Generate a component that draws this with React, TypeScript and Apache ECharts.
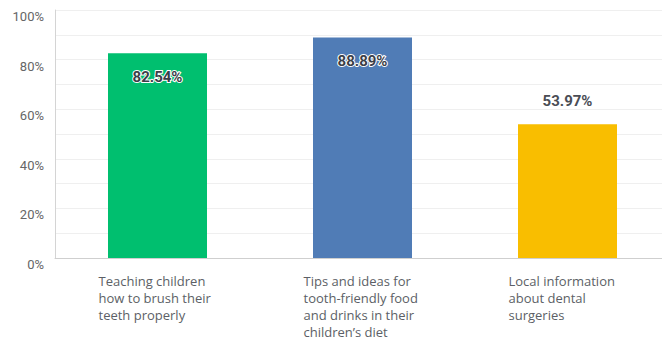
import React, { useEffect, useRef } from "react";
import * as echarts from "echarts";

const categories = [
  "Teaching children\nhow to brush their\nteeth properly",
  "Tips and ideas for\ntooth-friendly food\nand drinks in their\nchildren’s diet",
  "Local information\nabout dental\nsurgeries",
];
const values = [82.54, 88.89, 53.97];
const colors = ["#00BF6F", "#507CB6", "#F9BE00"];
const labelInside = [true, true, false];

export default function App() {
  const ref = useRef<HTMLDivElement>(null);
  useEffect(() => {
    if (!ref.current) return;
    const chart = echarts.init(ref.current, undefined, { renderer: "svg" });
    chart.setOption({
      animation: false,
      grid: { left: 55, top: 10, bottom: 82, right: 0, containLabel: false },
      xAxis: {
        type: "category",
        data: categories,
        axisLine: { lineStyle: { color: "#cfcfcf" } },
        axisTick: { show: false },
        axisLabel: {
          margin: 14,
          interval: 0,
          formatter: (v: string) => `{a|${v}}`,
          rich: {
            a: {
              width: 118,
              align: "left",
              fontSize: 13,
              lineHeight: 17,
              color: "#5c5f66",
              fontFamily: "'Open Sans', sans-serif",
            },
          },
        },
      },
      yAxis: {
        type: "value",
        min: 0,
        max: 100,
        interval: 10,
        axisLine: { show: true, lineStyle: { color: "#d4d4d4" } },
        axisTick: { show: false },
        splitLine: { lineStyle: { color: "#efefef" } },
        axisLabel: {
          formatter: (v: number) => (v % 20 === 0 ? v + "%" : ""),
          verticalAlign: "top",
          margin: 11,
          fontSize: 13,
          color: "#666",
          fontFamily: "Roboto, sans-serif",
        },
      },
      series: [
        {
          type: "bar",
          barWidth: 99,
          data: values.map((v, i) => ({
            value: v,
            itemStyle: { color: colors[i] },
            label: labelInside[i]
              ? {
                  show: true,
                  position: "insideTop",
                  distance: 16,
                  color: "#3b3e48",
                  textBorderColor: "#fff",
                  textBorderWidth: 2,
                }
              : {
                  show: true,
                  position: "top",
                  distance: 16,
                  color: "#4a4d55",
                },
          })),
          label: {
            show: true,
            fontSize: 15,
            fontWeight: "bold",
            fontFamily: "Roboto, sans-serif",
            formatter: (p: any) => p.value.toFixed(2) + "%",
          },
        },
      ],
    });
    return () => chart.dispose();
  }, []);
  return (
    <div
      style={{ position: "fixed", left: 0, top: 0, width: 662, height: 340, overflow: "hidden", background: "#fff" }}
    >
      <div ref={ref} style={{ width: 670, height: 340 }} />
    </div>
  );
}
